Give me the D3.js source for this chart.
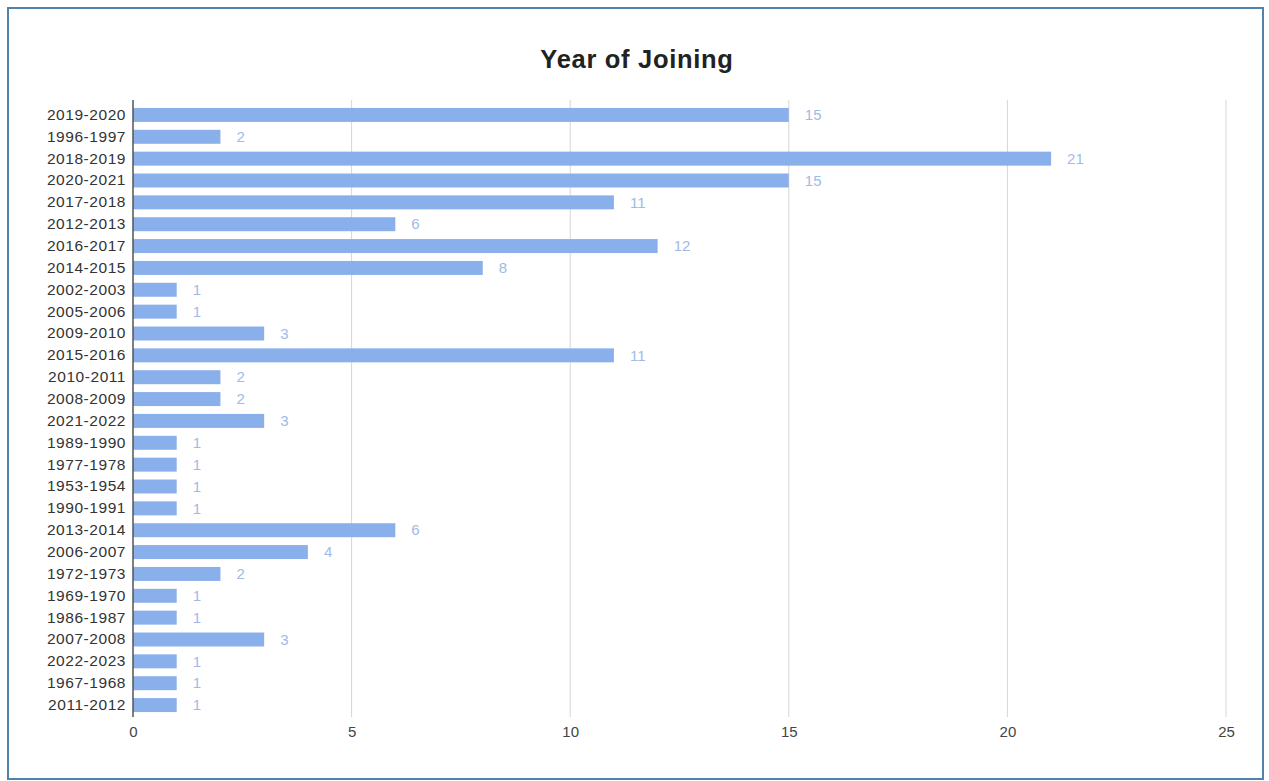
<!DOCTYPE html>
<html>
<head>
<meta charset="utf-8">
<script src="https://cdn.jsdelivr.net/npm/d3@7"></script>
<style>
  html, body { margin: 0; padding: 0; background: #fff; }
  svg { display: block; }
</style>
</head>
<body>
<svg id="chart" width="1269" height="781"></svg>
<script>
const categories = ["2019-2020","1996-1997","2018-2019","2020-2021","2017-2018","2012-2013","2016-2017","2014-2015","2002-2003","2005-2006","2009-2010","2015-2016","2010-2011","2008-2009","2021-2022","1989-1990","1977-1978","1953-1954","1990-1991","2013-2014","2006-2007","1972-1973","1969-1970","1986-1987","2007-2008","2022-2023","1967-1968","2011-2012"];
const values = [15,2,21,15,11,6,12,8,1,1,3,11,2,2,3,1,1,1,1,6,4,2,1,1,3,1,1,1];
const xTicks = [0,5,10,15,20,25];
const title = "Year of Joining";

(function () {
const svg = d3.select("#chart");
const font = "Arial, 'Liberation Sans', sans-serif";

// frame
svg.append("rect").attr("x", 8).attr("y", 8).attr("width", 1255).attr("height", 771)
  .attr("fill", "#fff").attr("stroke", "#4f83aa").attr("stroke-width", 2);

const mLeft = 133, mRight = 1226, mTop = 104, mBottom = 716;
const x = d3.scaleLinear().domain([0, 25]).range([mLeft, mRight]);
const y = d3.scaleBand().domain(categories).range([mTop, mBottom]).paddingInner(0.36).paddingOuter(0.18);

// gridlines
svg.append("g").selectAll("line").data(xTicks.filter(t => t > 0)).join("line")
  .attr("x1", d => x(d)).attr("x2", d => x(d))
  .attr("y1", 100).attr("y2", 717)
  .attr("stroke", "#d6d6d6").attr("stroke-width", 1);

// bars
svg.append("g").selectAll("rect").data(values).join("rect")
  .attr("x", x(0))
  .attr("y", (d, i) => y(categories[i]))
  .attr("width", d => x(d) - x(0))
  .attr("height", y.bandwidth())
  .attr("fill", "#8ab0ec");

// value labels
svg.append("g").selectAll("text").data(values).join("text")
  .attr("x", d => x(d) + 16)
  .attr("y", (d, i) => y(categories[i]) + y.bandwidth() / 2)
  .attr("dy", "0.35em")
  .attr("font-family", font).attr("font-size", 15)
  .attr("fill", "#9dbbe6")
  .text(d => d);

// y axis
const yAxis = svg.append("g").attr("transform", `translate(${mLeft},0)`)
  .call(d3.axisLeft(y).tickSize(0).tickPadding(7));
yAxis.select(".domain").remove();
yAxis.selectAll("text").attr("font-family", font).attr("font-size", 15.5)
  .attr("letter-spacing", "0.55px").attr("fill", "#333");
svg.append("line").attr("x1", mLeft).attr("x2", mLeft).attr("y1", 100).attr("y2", 717)
  .attr("stroke", "#555").attr("stroke-width", 1.5);

// x axis
const xAxis = svg.append("g").attr("transform", `translate(0,${mBottom})`)
  .call(d3.axisBottom(x).tickValues(xTicks).tickSize(0).tickPadding(10));
xAxis.select(".domain").remove();
xAxis.selectAll("text").attr("font-family", font).attr("font-size", 15).attr("fill", "#444");

// title
svg.append("text").attr("x", 637).attr("y", 68)
  .attr("text-anchor", "middle")
  .attr("font-family", font).attr("font-size", 25.5).attr("font-weight", "bold")
  .attr("letter-spacing", "0.7px")
  .attr("fill", "#222")
  .text(title);
})();
</script>
</body>
</html>
